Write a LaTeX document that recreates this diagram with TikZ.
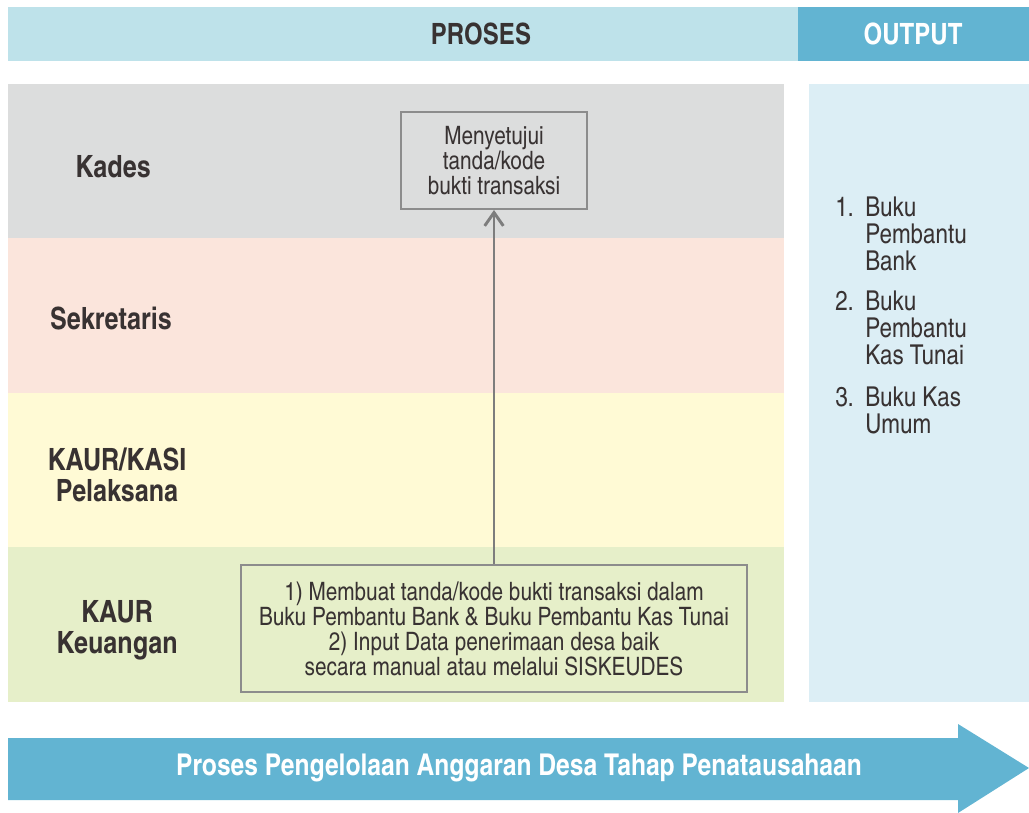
\documentclass[tikz,border=0pt]{standalone}
\usepackage{fontspec}
\setmainfont{texgyreheroscn}[Extension=.otf,UprightFont=*-regular,BoldFont=*-bold]
\usetikzlibrary{arrows.meta}

\definecolor{headlight}{RGB}{190,226,234}
\definecolor{headdark}{RGB}{98,180,210}
\definecolor{lanegray}{RGB}{220,221,221}
\definecolor{lanepink}{RGB}{251,229,220}
\definecolor{laneyellow}{RGB}{255,250,213}
\definecolor{lanegreen}{RGB}{230,239,201}
\definecolor{outpanel}{RGB}{220,238,245}
\definecolor{inktext}{RGB}{56,50,50}
\definecolor{boxline}{RGB}{140,140,140}
\definecolor{flowgray}{RGB}{125,125,125}

\tikzset{
  lanelabel/.style={align=center,text=inktext,inner sep=0.75pt,font=\bfseries\fontsize{23}{23}\selectfont},
  headlabel/.style={inner sep=0.75pt,font=\bfseries\fontsize{22}{24}\selectfont},
  taskbox/.style={draw=boxline,line width=1.5pt,align=center,text=inktext,inner sep=0pt,font=\fontsize{19}{18.75}\selectfont},
  outitem/.style={align=left,text=inktext,inner sep=0.75pt,anchor=north west,font=\fontsize{20.5}{20.25}\selectfont},
  flowarrow/.style={draw=flowgray,line width=2.2pt,-{Straight Barb[length=10pt,width=14pt]}}
}

\begin{document}
\begin{tikzpicture}[x=0.75pt,y=0.75pt,yscale=-1,xscale=1]
    \useasboundingbox (0,0) rectangle (1029,813);

    %Shape: Rectangle [header]
    \fill [headlight] (8,7) rectangle (798,61);
    \fill [headdark] (798,7) rectangle (1029,61);
    %Shape: Rectangle [lanes]
    \fill [lanegray] (8,84) rectangle (784,238);
    \fill [lanepink] (8,238) rectangle (784,393);
    \fill [laneyellow] (8,393) rectangle (784,547);
    \fill [lanegreen] (8,547) rectangle (784,702);
    %Shape: Rectangle [output panel]
    \fill [outpanel] (809,84) rectangle (1029,702);
    %Shape: Arrow [bottom]
    \fill [headdark] (8,738) -- (958,738) -- (958,724) -- (1029,768) -- (958,813) -- (958,800) -- (8,800) -- cycle ;

    % Text Node
    \node [headlabel,text=inktext] (proses) at (481,34) {PROSES};
    % Text Node
    \node [headlabel,text=white] (output) at (913,34) {OUTPUT};

    % Text Node
    \node [lanelabel] (kades) at (113,167) {Kades};
    % Text Node
    \node [lanelabel] (sekretaris) at (111,318) {Sekretaris};
    % Text Node
    \node [lanelabel] (pelaksana) at (117,475) {KAUR/KASI\\Pelaksana};
    % Text Node
    \node [lanelabel] (keuangan) at (117,630) {KAUR\\Keuangan};

    %Shape: Rectangle [approve]
    \node [taskbox,minimum width=139.5pt,minimum height=72.75pt] (approve) at (494,160.5) {Menyetujui\\tanda/kode\\bukti transaksi};
    %Shape: Rectangle [input]
    \node [taskbox,minimum width=379.5pt,minimum height=95.25pt] (input) at (494,628.5) {1) Membuat tanda/kode bukti transaksi dalam\\Buku Pembantu Bank \& Buku Pembantu Kas Tunai\\2) Input Data penerimaan desa baik\\secara manual atau melalui SISKEUDES};

    \draw [flowarrow] (input) -- (approve);

    % Text Node
    \node [outitem] (num1) at (834,196) {1.};
    \node [outitem] (out1) at (864,196) {Buku\\Pembantu\\Bank};
    % Text Node
    \node [outitem] (num2) at (834,290) {2.};
    \node [outitem] (out2) at (864,290) {Buku\\Pembantu\\Kas Tunai};
    % Text Node
    \node [outitem] (num3) at (834,386) {3.};
    \node [outitem] (out3) at (864,386) {Buku Kas\\Umum};

    % Text Node
    \node [headlabel,text=white,font=\bfseries\fontsize{22.5}{24}\selectfont] (flowtext) at (519,768) {Proses Pengelolaan Anggaran Desa Tahap Penatausahaan};
\end{tikzpicture}
\end{document}
